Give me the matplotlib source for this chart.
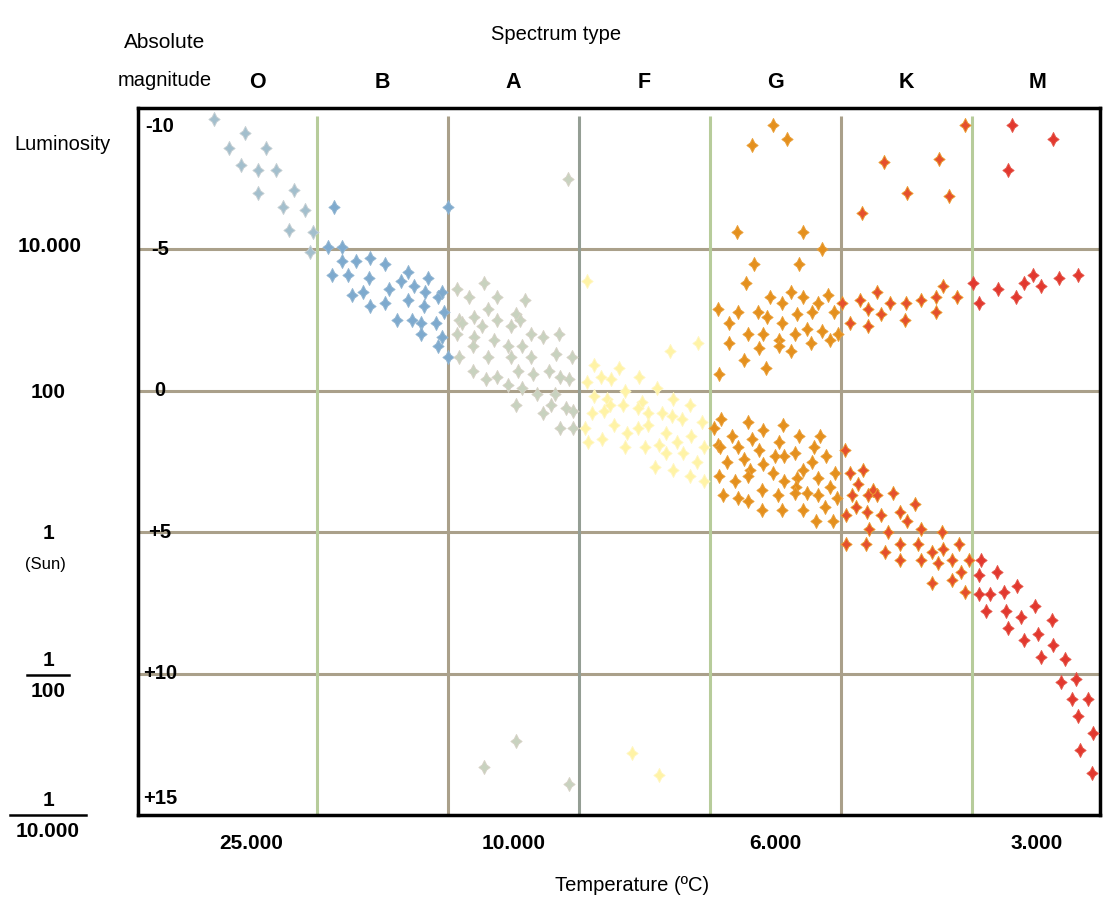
import matplotlib
matplotlib.use("Agg")
import matplotlib.pyplot as plt
from matplotlib.lines import Line2D
import matplotlib.transforms as mtransforms

# x = spectral subclass (O0 = 0, B0 = 10, A0 = 20, ... M0 = 60), y = absolute magnitude
o_sub = [2.2, 4.5, 3.3, 6.1, 4.2, 5.5, 6.9, 5.5, 8.3, 7.4, 9.1, 7.9, 9.7, 9.5]
o_mag = [-9.6, -9.1, -8.6, -8.6, -8.0, -7.8, -7.8, -7.0, -7.1, -6.5, -6.4, -5.7, -5.6, -4.9]

b_sub = [11.3, 10.9, 11.9, 11.9, 13.0, 14.1, 15.2, 11.2, 12.4, 14.0, 17.0, 18.5, 16.4, 15.5, 17.4,
         12.7, 13.5, 18.3, 19.3, 19.6, 17.0, 15.2, 14.1, 18.2, 19.7, 16.1, 17.3, 18.0, 19.1, 18.0,
         19.6, 19.3, 20.0, 20.0]
b_mag = [-6.5, -5.1, -5.1, -4.6, -4.6, -4.7, -4.5, -4.1, -4.1, -4.0, -4.2, -4.0, -3.9, -3.6, -3.7,
         -3.4, -3.5, -3.5, -3.3, -3.5, -3.2, -3.1, -3.0, -3.0, -2.8, -2.5, -2.5, -2.4, -2.4, -2.0,
         -1.9, -1.6, -1.2, -6.5]

a_sub = [29.2, 20.7, 22.8, 21.6, 23.8, 25.9, 23.1, 20.9, 21.1, 22.0,
         23.8, 25.2, 25.5, 22.6, 24.8, 20.7, 22.0, 23.5, 26.4, 27.3,
         28.5, 21.9, 24.6, 25.7, 20.9, 23.1, 24.8, 26.4, 28.3, 29.5,
         21.9, 25.4, 26.5, 27.7, 22.9, 23.8, 28.6, 29.3, 24.6, 25.7,
         26.8, 28.2, 25.2, 27.9, 29.0, 29.6, 27.3, 28.6, 29.6, 25.2,
         22.8, 29.3]
a_mag = [-7.5, -3.6, -3.8, -3.3, -3.3, -3.2, -2.9, -2.5, -2.4, -2.6,
         -2.5, -2.7, -2.5, -2.3, -2.3, -2.0, -1.9, -1.8, -2.0, -1.9,
         -2.0, -1.6, -1.6, -1.6, -1.2, -1.2, -1.2, -1.2, -1.3, -1.2,
         -0.7, -0.7, -0.6, -0.7, -0.4, -0.5, -0.5, -0.4, -0.2, -0.1,
         0.1, 0.1, 0.5, 0.5, 0.6, 0.7, 0.8, 1.3, 1.3, 12.4,
         13.3, 13.9]

f_sub = [30.6, 37.0, 39.1, 31.2, 33.1, 31.7, 34.6, 30.6, 32.5, 36.0,
         33.5, 31.2, 32.2, 32.4, 34.8, 37.2, 38.5, 31.0, 31.9, 33.4,
         34.5, 35.3, 36.4, 37.1, 37.9, 39.4, 30.5, 32.7, 33.7, 34.5,
         35.3, 36.7, 38.6, 30.7, 31.8, 33.5, 35.1, 36.1, 37.5, 39.6,
         36.7, 38.0, 35.8, 37.2, 39.0, 38.5, 39.6, 34.1, 36.1]
f_mag = [-3.9, -1.4, -1.7, -0.9, -0.8, -0.5, -0.5, -0.3, -0.4, -0.1,
         0.0, 0.2, 0.3, 0.5, 0.4, 0.3, 0.5, 0.8, 0.7, 0.5,
         0.6, 0.8, 0.8, 0.9, 1.0, 1.1, 1.3, 1.2, 1.5, 1.3,
         1.2, 1.5, 1.6, 1.8, 1.7, 2.0, 2.0, 1.9, 1.8, 2.0,
         2.2, 2.2, 2.7, 2.8, 2.5, 3.0, 3.2, 12.8, 13.6]

g_sub = [44.8, 43.2, 45.9, 42.1, 47.1, 48.6, 43.4, 46.8, 42.8,
         40.6, 42.2, 44.6, 46.2, 47.1, 45.5, 49.0, 48.3, 43.7, 44.4,
         46.7, 47.8, 49.5, 41.5, 45.5, 42.9, 44.1, 46.5, 47.4, 48.6,
         49.8, 41.5, 45.3, 45.3, 47.7, 49.2, 43.8, 46.2, 42.6, 44.3, 40.7,
         40.9, 40.3, 42.9, 44.1, 45.6, 41.7, 43.2, 45.3, 46.8, 48.4,
         40.6, 40.8, 42.2, 43.8, 42.6, 45.0, 45.7, 46.5, 48.0, 48.9,
         41.3, 44.1, 47.1, 47.8, 43.1, 42.9, 44.8, 49.6, 40.7, 41.9,
         45.7, 46.7, 46.6, 48.3, 44.0, 49.2, 47.4, 41.0, 42.2, 42.9,
         45.2, 48.3, 49.7, 46.5, 44.0, 45.5, 47.1, 48.8, 48.1, 49.4]
g_mag = [-9.4, -8.7, -8.9, -5.6, -5.6, -5.0, -4.5, -4.5, -3.8,
         -2.9, -2.8, -3.3, -3.5, -3.3, -3.1, -3.4, -3.1, -2.8, -2.6,
         -2.7, -2.8, -2.8, -2.4, -2.4, -2.0, -2.0, -2.0, -2.2, -2.1,
         -2.0, -1.7, -1.8, -1.6, -1.7, -1.8, -1.5, -1.4, -1.1, -0.8, -0.6,
         1.0, 1.3, 1.1, 1.4, 1.2, 1.6, 1.7, 1.8, 1.6, 1.6,
         1.9, 2.0, 2.0, 2.1, 2.4, 2.3, 2.3, 2.2, 2.0, 2.3,
         2.5, 2.6, 2.8, 2.5, 2.8, 3.0, 2.9, 2.9, 3.0, 3.2,
         3.2, 3.1, 3.4, 3.1, 3.5, 3.4, 3.6, 3.7, 3.8, 3.9,
         3.7, 3.7, 3.8, 3.6, 4.2, 4.2, 4.2, 4.1, 4.6, 4.6]

k_sub = [53.3, 55.1, 51.6, 57.5, 58.3, 59.5,
         50.1, 50.7, 51.5, 52.1, 52.1, 52.8, 53.1, 53.8, 55.0, 54.9, 56.1, 57.3, 57.3, 57.8, 58.9,
         50.3, 50.7, 51.7, 51.3, 52.5, 50.9, 52.1, 52.8, 54.0, 51.2,
         52.0, 53.1, 50.4, 54.5, 55.7, 55.1, 52.2, 53.6, 56.1, 57.7,
         50.4, 51.9, 54.5, 55.9, 59.0, 53.4, 57.0, 57.8, 54.5, 56.1,
         57.4, 58.5, 59.8, 59.2, 57.0, 58.5, 59.5]
k_mag = [-8.1, -7.0, -6.3, -8.2, -6.9, -9.4,
         -3.1, -2.4, -3.2, -2.9, -2.3, -3.5, -2.7, -3.1, -3.1, -2.5, -3.2, -3.3, -2.8, -3.7, -3.3,
         2.1, 2.9, 2.8, 3.3, 3.5, 3.7, 3.7, 3.7, 3.6, 4.1,
         4.3, 4.4, 4.4, 4.3, 4.0, 4.6, 4.9, 5.0, 4.9, 5.0,
         5.4, 5.4, 5.4, 5.4, 5.4, 5.7, 5.7, 5.6, 6.0, 6.0,
         6.1, 6.0, 6.0, 6.4, 6.8, 6.7, 7.1]

m_sub = [63.1, 66.2, 62.8, 60.1, 60.6, 62.0, 63.4, 64.0, 64.7, 65.3, 66.7, 68.1,
         60.7, 60.6, 61.9, 60.6, 61.4, 62.5, 63.5, 61.1, 62.6, 63.8,
         64.8, 66.1, 62.8, 64.0, 65.1, 66.2, 65.3, 67.1, 66.8, 68.0,
         67.7, 68.9, 68.1, 69.3, 68.3, 69.2]
m_mag = [-9.4, -8.9, -7.8, -3.8, -3.1, -3.6, -3.3, -3.8, -4.1, -3.7, -4.0, -4.1,
         6.0, 6.5, 6.4, 7.2, 7.2, 7.1, 6.9, 7.8, 7.8, 8.0,
         7.6, 8.1, 8.4, 8.8, 8.6, 9.0, 9.4, 9.5, 10.3, 10.2,
         10.9, 10.9, 11.5, 12.1, 12.7, 13.5]

spectral_types = ["O", "B", "A", "F", "G", "K", "M"]
type_centers = [5.5, 15, 25, 35, 45, 55, 65]
class_edges = [10, 20, 30, 40, 50, 60]
temp_labels = ["25.000", "10.000", "6.000", "3.000"]
temp_pos = [5, 25, 45, 65]
mag_labels = ["-10", "-5", "0", "+5", "+10", "+15"]
mag_values = [-10, -5, 0, 5, 10, 15]

FONT = ["Liberation Sans", "DejaVu Sans"]

fig = plt.figure(figsize=(11.05, 9.13), dpi=100)
ax = fig.add_axes([138 / 1105, 1 - 815 / 913, 962 / 1105, 707 / 913])
ax.set_xlim(-3.64, 69.8)
ax.set_ylim(15, -10)
ax.set_xticks([])
ax.set_yticks([])
for sp in ax.spines.values():
    sp.set_linewidth(2.5)
    sp.set_color("black")

# grid lines
for y in [-5, 0, 5, 10]:
    ax.axhline(y, color="#aaa08a", lw=2.2, zorder=1)
edge_colors = ["#b7cc9b", "#aaa08a", "#949e94", "#b7cc9b", "#aaa08a", "#b7cc9b"]
for x, c in zip(class_edges, edge_colors):
    ax.vlines(x, 15, -9.7, color=c, lw=2.2, zorder=1)

# 4-point star marker, slightly pinched diamond
star = [(0, 1), (0.32, 0.36), (0.8, 0), (0.32, -0.36), (0, -1),
        (-0.32, -0.36), (-0.8, 0), (-0.32, 0.36), (0, 1)]
groups = [
    (o_sub, o_mag, "#a3bfcd", "#c4ced2"),
    (b_sub, b_mag, "#7eaace", "#93b6d2"),
    (a_sub, a_mag, "#c8d2bf", "#d6d2c6"),
    (f_sub, f_mag, "#fff3a6", "#fff6c0"),
    (g_sub, g_mag, "#e4901e", "#eaa03a"),
    (k_sub, k_mag, "#e5502d", "#eb9a2f"),
    (m_sub, m_mag, "#e2382f", "#e5584a"),
]
for xs, ys, fc, ec in groups:
    ax.scatter(xs, ys, marker=star, s=100, c=fc, edgecolors=ec, linewidths=0.7, zorder=3)

# magnitude labels inside the frame
ytrans = mtransforms.blended_transform_factory(ax.transAxes, ax.transData)
for lab, v in zip(mag_labels, mag_values):
    yy = min(max(v, -9.35), 14.4)
    ax.text(0.023, yy, lab, transform=ytrans, ha="center", va="center",
            fontsize=14.5, fontweight="bold", family=FONT)

# spectral type letters and temperatures
xtop = mtransforms.blended_transform_factory(ax.transData, fig.transFigure)
for lab, x in zip(spectral_types, type_centers):
    fig.text(x, 1 - 82 / 913, lab, transform=xtop, ha="center", va="center",
             fontsize=15.5, fontweight="bold", family=FONT)
for lab, x in zip(temp_labels, temp_pos):
    fig.text(x, 1 - 843 / 913, lab, transform=xtop, ha="center", va="center",
             fontsize=15, fontweight="bold", family=FONT)

fig.text(632 / 1105, 1 - 885 / 913, "Temperature (ºC)", ha="center", va="center", fontsize=14.5, family=FONT)
fig.text(556 / 1105, 1 - 35 / 913, "Spectrum type", ha="center", va="center", fontsize=14.5, family=FONT)
fig.text(165 / 1105, 1 - 42 / 913, "Absolute", ha="center", va="center", fontsize=15, family=FONT)
fig.text(165 / 1105, 1 - 80 / 913, "magnitude", ha="center", va="center", fontsize=14.5, family=FONT)
fig.text(62 / 1105, 1 - 145 / 913, "Luminosity", ha="center", va="center", fontsize=14.5, family=FONT)

# luminosity scale on the left
def ftxt(x, y, s, **kw):
    fig.text(x / 1105, 1 - y / 913, s, ha="center", va="center", family=FONT, **kw)

ftxt(50, 247, "10.000", fontsize=15, fontweight="bold")
ftxt(48, 392, "100", fontsize=15, fontweight="bold")
ftxt(48, 533, "1", fontsize=15, fontweight="bold")
ftxt(45, 564, "(Sun)", fontsize=12)
ftxt(48, 660, "1", fontsize=15, fontweight="bold")
ftxt(48, 691, "100", fontsize=15, fontweight="bold")
ftxt(48, 800, "1", fontsize=15, fontweight="bold")
ftxt(48, 831, "10.000", fontsize=15, fontweight="bold")
fig.add_artist(Line2D([27 / 1105, 69 / 1105], [1 - 675 / 913] * 2, color="black", lw=1.8))
fig.add_artist(Line2D([10 / 1105, 86 / 1105], [1 - 815 / 913] * 2, color="black", lw=1.8))

fig.savefig("out.png", dpi=100, facecolor="white")
